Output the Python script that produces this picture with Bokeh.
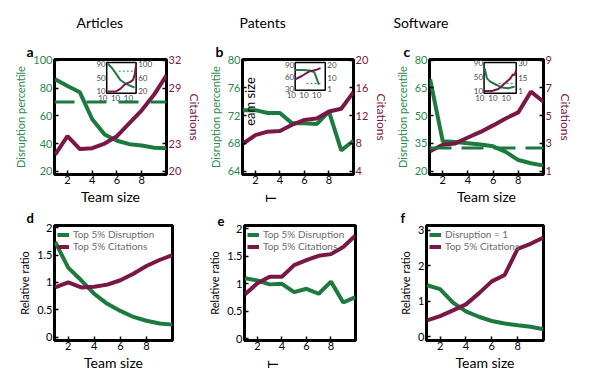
import math
from bokeh.plotting import figure
from bokeh.models import Range1d, LinearAxis, FixedTicker, Span, Label, Legend, LegendItem, Title
from bokeh.layouts import row, column
from bokeh.embed import file_html
from bokeh.resources import INLINE
from bokeh.core.properties import value

FONT = "Lato"
GREEN = "#1d7a3e"
MAROON = "#7a1747"
GREEN_TXT = "#2b8a4b"
GREY = "#6b6b6b"
INSET_TXT = "#4a4a4a"
DOT = "#2a8a6e"

# ---------------- data ----------------
team_size = [1, 2, 3, 4, 5, 6, 7, 8, 9, 10]
x_ticks = [2, 4, 6, 8]

articles_disruption = [86.5, 81.5, 77.0, 57.5, 46.5, 42.0, 39.5, 38.5, 37.0, 36.5]
articles_citations = [21.8, 23.8, 22.4, 22.5, 23.0, 23.8, 25.2, 26.6, 28.3, 30.4]
articles_baseline = 70
patents_disruption = [72.8, 72.8, 72.4, 72.4, 70.9, 70.9, 70.8, 72.6, 67.0, 68.4]
patents_citations = [8.0, 9.2, 9.7, 9.8, 10.7, 11.4, 11.6, 12.6, 13.0, 15.4]
software_disruption = [69.6, 36.2, 35.7, 35.1, 34.4, 33.4, 30.4, 26.0, 24.3, 23.0]
software_citations = [2.44, 2.9, 3.0, 3.43, 3.83, 4.3, 4.8, 5.24, 6.73, 6.0]
software_baseline = 32.5

articles_left_ticks = [20, 40, 60, 80, 100]
articles_right_ticks = [20, 23, 29, 32]
patents_left_ticks = [64, 68, 72, 76, 80]
patents_right_ticks = [4, 8, 12, 16, 20]
software_left_ticks = [20, 35, 50, 65, 80]
software_right_ticks = [1, 3, 5, 7, 9]

# insets (x = log10 team size)
inset_x_tick_pos = [0, 1, 2]
inset_x_tick_text = ["10", "10", "10"]
art_in_x_dis = [0.22, 0.59, 0.96, 1.21, 1.58, 1.95, 2.32]
art_in_dis = [93, 78, 58, 43.5, 33.7, 27, 21]
art_in_x_cit = [0.22, 0.84, 1.21, 1.58, 1.95, 2.2, 2.32, 2.44]
art_in_cit = [19, 19, 27, 41, 47, 54, 68, 100]
art_in_ref_x = [1.09, 2.44]
art_in_ref = 70
art_in_left_ticks = [10, 50, 90]
art_in_right_ticks = [20, 60, 100]

pat_in_x_dis = [0.15, 0.67, 1.28, 1.65, 2.02]
pat_in_dis = [78, 78, 77, 73, 40]
pat_in_x_cit = [0.15, 0.67, 1.28, 1.9, 2.15]
pat_in_cit = [8.6, 11.3, 15.1, 16.7, 17.8]
pat_in_ref_x = [1.04, 2.22]
pat_in_ref = 43
pat_in_left_ticks = [30, 60, 90]
pat_in_right_ticks = [1, 10, 20]

sw_in_x_dis = [0.22, 0.39, 0.64, 1.13, 1.5, 2.0, 2.49]
sw_in_dis = [75.5, 46.6, 37, 27.3, 19.8, 17.7, 22.6]
sw_in_x_cit = [0.22, 0.76, 1.26, 1.75, 2.12, 2.37, 2.49, 2.61]
sw_in_cit = [1, 1, 3.1, 9, 13.5, 18.5, 17.7, 23]
sw_in_ref_x = [1.28, 2.61]
sw_in_ref = 32
sw_in_left_ticks = [10, 50, 90]
sw_in_right_ticks = [1, 15, 30]

rel_articles_disruption = [1.74, 1.27, 1.04, 0.79, 0.61, 0.48, 0.37, 0.30, 0.25, 0.23]
rel_articles_citations = [0.91, 1.0, 0.91, 0.92, 0.96, 1.04, 1.16, 1.30, 1.41, 1.50]
rel_patents_disruption = [1.10, 1.06, 0.99, 1.0, 0.85, 0.91, 0.82, 1.04, 0.66, 0.76]
rel_patents_citations = [0.81, 1.01, 1.13, 1.13, 1.34, 1.43, 1.51, 1.54, 1.67, 1.88]
rel_software_disruption = [1.45, 1.34, 0.96, 0.71, 0.56, 0.44, 0.37, 0.32, 0.28, 0.21]
rel_software_citations = [0.46, 0.58, 0.74, 0.91, 1.22, 1.56, 1.74, 2.48, 2.62, 2.80]
rel_ticks_de = [0, 0.5, 1, 1.5, 2]
rel_ticks_f = [0, 1, 2, 3]

legend_de = ["Top 5% Disruption", "Top 5% Citations"]
legend_f = ["Disruption = 1", "Top 5% Citations"]
titles = ["Articles", "Patents", "Software"]
letters = ["a", "b", "c", "d", "e", "f"]
stray_x_label = "T"          # the clipped x-axis label of the patents panels
stray_x_label_pos = 3.3

# ---------------- layout (page px; the page starts at 0,0) ----------------
FRAME_L = [54, 237, 426]
FRAME_R = [172, 355, 543]
FIG_X = [0, 205, 392, 598]
FRAME_TB = [(59, 175), (223, 340)]
ROW_TB = [(0, 207), (207, 383)]
X_START, X_END = 0.95, 10.0


def style_axis(ax, color, size, label_size=11, label_color=None, lstand=3):
    ax.axis_line_color = None
    ax.major_tick_in = 4
    ax.major_tick_out = 0
    ax.major_tick_line_color = "black"
    ax.major_tick_line_width = 1.5
    ax.minor_tick_line_color = None
    ax.major_label_text_color = color
    ax.major_label_text_font = FONT
    ax.major_label_text_font_size = f"{size}px"
    ax.major_label_standoff = 2
    ax.axis_label_standoff = lstand
    ax.axis_label_text_font = FONT
    ax.axis_label_text_font_style = "normal"
    ax.axis_label_text_font_size = f"{label_size}px"
    ax.axis_label_text_color = label_color or color


def base_fig(col, r, y_start, y_end):
    fl, fr = FRAME_L[col], FRAME_R[col]
    fx0, fx1 = FIG_X[col], FIG_X[col + 1]
    ft, fb = FRAME_TB[r]
    r0, r1 = ROW_TB[r]
    p = figure(width=fx1 - fx0, height=r1 - r0,
               x_range=Range1d(X_START, X_END), y_range=Range1d(y_start, y_end),
               min_border_left=fl - fx0, min_border_right=fx1 - fr,
               min_border_top=ft - r0, min_border_bottom=r1 - fb,
               output_backend="svg", toolbar_location=None)
    p.outline_line_color = "black"
    p.outline_line_width = 3
    p.outline_line_alpha = 1.0
    p.grid.visible = False
    p.background_fill_color = "white"
    p.border_fill_color = "white"
    p.xaxis.ticker = FixedTicker(ticks=x_ticks)
    style_axis(p.xaxis[0], "black", 11, label_size=14, lstand=1)
    p.xaxis.major_label_standoff = 1
    return p


def add_title(p, col, text, left_px, size, bold=False, standoff=0):
    p.add_layout(Title(text=text, align="left", offset=left_px - FRAME_L[col],
                       standoff=standoff, text_font=FONT, text_font_size=f"{size}px",
                       text_font_style="bold" if bold else "normal",
                       text_color="black"), "above")


def frame_label(p, col, r, text, px, py, size, color="black", angle=0.0):
    p.add_layout(Label(x=px - FRAME_L[col], y=FRAME_TB[r][1] - py,
                       x_units="screen", y_units="screen", text=text, text_font=FONT,
                       text_font_size=f"{size}px", text_color=color, angle=angle,
                       text_align="center", text_baseline="middle"))


def add_rotated_x_label(p, text, pos):
    ax = LinearAxis(ticker=FixedTicker(ticks=[pos]), major_label_overrides={pos: text},
                    major_label_orientation=math.pi / 2)
    ax.axis_line_color = None
    ax.major_tick_line_color = None
    ax.minor_tick_line_color = None
    ax.major_label_standoff = 2
    ax.major_label_text_font = FONT
    ax.major_label_text_font_size = "13px"
    ax.major_label_text_color = "black"
    p.add_layout(ax, "below")


def lin_range(f_lo, f_hi, b_lo, b_hi, v_lo, v_hi):
    k = (v_hi - v_lo) / (b_hi - b_lo)
    return Range1d(v_lo - (b_lo - f_lo) * k, v_hi + (f_hi - b_hi) * k)


def add_inset(p, col, box, xlim, llim, rlim, xd, yd, xc, yc, refx, ref, lt, rt):
    fl, fr = FRAME_L[col], FRAME_R[col]
    ft, fb = FRAME_TB[0]
    x0, x1, ytop, ybot = box
    p.extra_x_ranges = {"ix": lin_range(fl, fr, x0, x1, *xlim)}
    ex = dict(p.extra_y_ranges)
    ex["il"] = lin_range(0, fb - ft, fb - ybot, fb - ytop, *llim)
    ex["ir"] = lin_range(0, fb - ft, fb - ybot, fb - ytop, *rlim)
    p.extra_y_ranges = ex
    p.quad(left=[xlim[0]], right=[xlim[1]], bottom=[llim[0]], top=[llim[1]],
           x_range_name="ix", y_range_name="il", fill_color="white",
           line_color="black", line_width=1.5)
    p.line(refx, [ref, ref], x_range_name="ix", y_range_name="il",
           line_color=DOT, line_width=1, line_dash="2 2")
    p.line(xd, yd, x_range_name="ix", y_range_name="il", line_color=GREEN, line_width=2)
    p.line(xc, yc, x_range_name="ix", y_range_name="ir", line_color=MAROON, line_width=2)
    p.text(x=[xlim[0]] * len(lt), y=lt, text=[str(v) for v in lt],
           x_range_name="ix", y_range_name="il", text_align="right",
           text_baseline="middle", x_offset=-1, text_font=value(FONT),
           text_font_size="8px", text_color=INSET_TXT)
    p.text(x=[xlim[1]] * len(rt), y=rt, text=[str(v) for v in rt],
           x_range_name="ix", y_range_name="ir", text_align="left",
           text_baseline="middle", x_offset=2, text_font=value(FONT),
           text_font_size="8px", text_color=INSET_TXT)
    p.text(x=inset_x_tick_pos, y=[llim[0]] * 3, text=inset_x_tick_text,
           x_range_name="ix", y_range_name="il", text_align="center",
           text_baseline="top", x_offset=-2, y_offset=2, text_font=value(FONT),
           text_font_size="8px", text_color=INSET_TXT)


def top_panel(col, dis, cit, yl, yr, lt, rt, xlabel=True):
    p = base_fig(col, 0, *yl)
    p.extra_y_ranges = {"cit": Range1d(*yr)}
    p.yaxis.ticker = FixedTicker(ticks=lt)
    style_axis(p.yaxis[0], GREEN_TXT, 11, label_size=11)
    p.yaxis.axis_label = "Disruption percentile"
    rax = LinearAxis(y_range_name="cit", ticker=FixedTicker(ticks=rt), axis_label="Citations")
    style_axis(rax, MAROON, 11, label_size=12)
    p.add_layout(rax, "right")
    if xlabel:
        p.xaxis.axis_label = "Team size"
    p.line(team_size, dis, line_color=GREEN, line_width=4)
    p.line(team_size, cit, line_color=MAROON, line_width=4, y_range_name="cit")
    return p


def bottom_panel(col, dis, cit, ylim, ticks, leg, xlabel=True):
    p = base_fig(col, 1, *ylim)
    p.yaxis.ticker = FixedTicker(ticks=ticks)
    p.yaxis.major_label_overrides = {t: ("%g" % t) for t in ticks}
    style_axis(p.yaxis[0], "black", 11, label_size=11)
    p.yaxis.axis_label = "Relative ratio"
    if xlabel:
        p.xaxis.axis_label = "Team size"
    g = p.line(team_size, dis, line_color=GREEN, line_width=4)
    m = p.line(team_size, cit, line_color=MAROON, line_width=4)
    lg = Legend(items=[LegendItem(label=leg[0], renderers=[g]),
                       LegendItem(label=leg[1], renderers=[m])],
                location="top_left")
    lg.border_line_color = None
    lg.background_fill_alpha = 0
    lg.margin = 3
    lg.padding = 1
    lg.spacing = 0
    lg.glyph_width = 12
    lg.glyph_height = 11
    lg.label_height = 11
    lg.label_standoff = 4
    lg.label_text_font = FONT
    lg.label_text_font_size = "10px"
    lg.label_text_color = GREY
    p.add_layout(lg)
    return p


# ---- top row ----
pa = top_panel(0, articles_disruption, articles_citations, (17.6, 100.7), (19.65, 32.1),
               articles_left_ticks, articles_right_ticks)
pa.add_layout(Span(location=articles_baseline, dimension="width", line_color=GREEN,
                   line_width=3, line_dash="20 12"))
add_inset(pa, 0, (109, 140, 62, 93), (0.15, 2.44), (4.1, 95.9), (14.1, 105.9),
          art_in_x_dis, art_in_dis, art_in_x_cit, art_in_cit, art_in_ref_x, art_in_ref,
          art_in_left_ticks, art_in_right_ticks)

pb = top_panel(1, patents_disruption, patents_citations, (63.53, 80.1), (3.53, 20.1),
               patents_left_ticks, patents_right_ticks, xlabel=False)
add_inset(pb, 1, (293, 325, 62, 90), (0.15, 2.52), (25.6, 97.7), (-0.39, 22.4),
          pat_in_x_dis, pat_in_dis, pat_in_x_cit, pat_in_cit, pat_in_ref_x, pat_in_ref,
          pat_in_left_ticks, pat_in_right_ticks)
add_rotated_x_label(pb, stray_x_label, stray_x_label_pos)

pc = top_panel(2, software_disruption, software_citations, (18.2, 80.3), (0.76, 9.05),
               software_left_ticks, software_right_ticks)
pc.add_layout(Span(location=software_baseline, dimension="width", line_color=GREEN,
                   line_width=3, line_dash="22 10"))
add_inset(pc, 2, (482, 515, 62, 93), (0.17, 2.61), (3.35, 92.9), (-1.41, 31.05),
          sw_in_x_dis, sw_in_dis, sw_in_x_cit, sw_in_cit, sw_in_ref_x, sw_in_ref,
          sw_in_left_ticks, sw_in_right_ticks)

# ---- bottom row ----
pd_ = bottom_panel(0, rel_articles_disruption, rel_articles_citations, (-0.06, 2.04),
                   rel_ticks_de, legend_de)
pe = bottom_panel(1, rel_patents_disruption, rel_patents_citations, (-0.03, 2.06),
                  rel_ticks_de, legend_de, xlabel=False)
add_rotated_x_label(pe, stray_x_label, stray_x_label_pos)
pf = bottom_panel(2, rel_software_disruption, rel_software_citations, (-0.11, 3.137),
                  rel_ticks_f, legend_f)

# ---- panel letters and column titles (stacked above the frames) ----
top_figs = [pa, pb, pc]
bot_figs = [pd_, pe, pf]
letter_left = [26, 210, 400]
title_left = [76, 234, 390]
for i in range(3):
    add_title(top_figs[i], i, letters[i], letter_left[i], 14, bold=True, standoff=0)
    add_title(top_figs[i], i, titles[i], title_left[i], 14, standoff=19)
    add_title(bot_figs[i], i, letters[3 + i], letter_left[i], 13, bold=True, standoff=0)

# ---- stray texts of the original, inside the frames ----
frame_label(pb, 1, 0, "eam size", 244, 102, 13, angle=math.pi / 2)
frame_label(pa, 0, 0, "%", 168, 117, 10, color=MAROON, angle=math.pi / 2)

layout = column(row(pa, pb, pc), row(pd_, pe, pf))
open("out.html", "w").write(file_html(layout, INLINE))
